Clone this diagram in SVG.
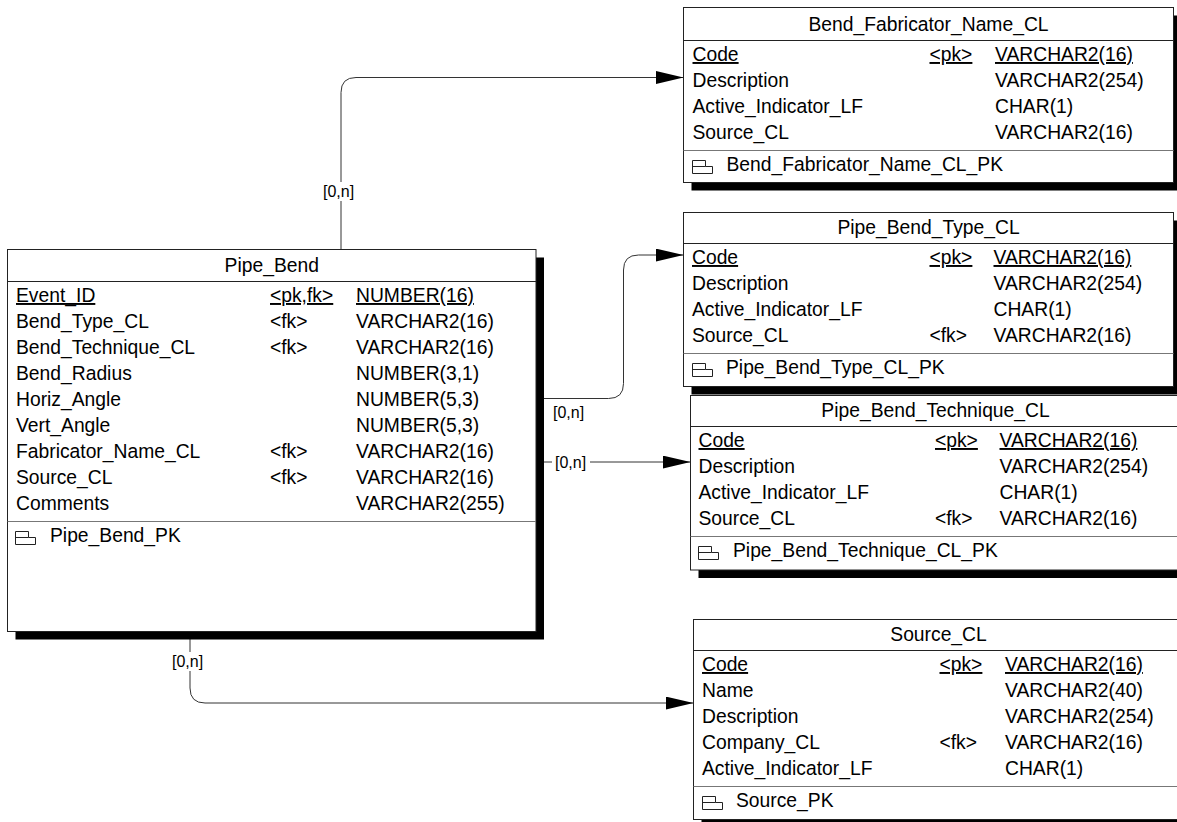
<svg xmlns="http://www.w3.org/2000/svg" width="1177" height="822" viewBox="0 0 1177 822">
<style>
text{font-family:"Liberation Sans",Arial,sans-serif;font-size:19.3px;fill:#000}
.ttl{text-anchor:middle}
.u{text-decoration:underline}
.lbl{font-size:16px}
.box{fill:#fff;stroke:#222;stroke-width:1}
.shd{fill:#000}
.hs{stroke:#222;stroke-width:1}
.ps{stroke:#777;stroke-width:1}
.ico{fill:none;stroke:#222;stroke-width:1}
.conn{fill:none;stroke:#333;stroke-width:1}
.lbg{fill:#fff}
</style>
<defs>
<marker id="arr" markerUnits="userSpaceOnUse" markerWidth="28" markerHeight="13" refX="28" refY="6.5" orient="auto">
<path d="M0,0 L28,6.5 L0,13 z" fill="#000"/>
</marker>
<path id="pk" d="M0.5,0.5 h13 v6 h7 v7 h-20 z M0.5,6.5 h13"/>
</defs>

<g id="connectors">
<path class="conn" d="M341,249.5 V92.5 Q341,77.5 356,77.5 H683.5" marker-end="url(#arr)"/>
<rect class="lbg" x="322" y="182" width="34" height="19"/>
<text class="lbl" x="323" y="197">[0,n]</text>
<path class="conn" d="M536,398.5 H608.5 Q623.5,398.5 623.5,383.5 V270 Q623.5,255 638.5,255 H683.5" marker-end="url(#arr)"/>
<text class="lbl" x="553" y="418">[0,n]</text>
<path class="conn" d="M536,462 H690.5" marker-end="url(#arr)"/>
<rect class="lbg" x="552" y="452" width="38" height="19"/>
<text class="lbl" x="555" y="468">[0,n]</text>
<path class="conn" d="M190,632 V688 Q190,703 205,703 H693.5" marker-end="url(#arr)"/>
<rect class="lbg" x="171" y="652" width="34" height="19"/>
<text class="lbl" x="172" y="667">[0,n]</text>
</g>

<g id="Pipe_Bend">
<rect class="shd" x="15.5" y="257.5" width="528.5" height="382"/>
<rect class="box" x="7.5" y="249.5" width="528.5" height="382"/>
<line class="hs" x1="7.5" y1="281.5" x2="536" y2="281.5"/>
<text class="ttl" x="271.75" y="272">Pipe_Bend</text>
<text x="16" y="302" class="u">Event_ID</text><text x="270" y="302" class="u">&lt;pk,fk&gt;</text><text x="356" y="302" class="u">NUMBER(16)</text>
<text x="16" y="328">Bend_Type_CL</text><text x="270" y="328">&lt;fk&gt;</text><text x="356" y="328">VARCHAR2(16)</text>
<text x="16" y="354">Bend_Technique_CL</text><text x="270" y="354">&lt;fk&gt;</text><text x="356" y="354">VARCHAR2(16)</text>
<text x="16" y="380">Bend_Radius</text><text x="356" y="380">NUMBER(3,1)</text>
<text x="16" y="406">Horiz_Angle</text><text x="356" y="406">NUMBER(5,3)</text>
<text x="16" y="432">Vert_Angle</text><text x="356" y="432">NUMBER(5,3)</text>
<text x="16" y="458">Fabricator_Name_CL</text><text x="270" y="458">&lt;fk&gt;</text><text x="356" y="458">VARCHAR2(16)</text>
<text x="16" y="484">Source_CL</text><text x="270" y="484">&lt;fk&gt;</text><text x="356" y="484">VARCHAR2(16)</text>
<text x="16" y="510">Comments</text><text x="356" y="510">VARCHAR2(255)</text>
<line class="ps" x1="7.5" y1="521.5" x2="536" y2="521.5"/>
<use href="#pk" class="ico" x="15" y="531"/>
<text x="50" y="542">Pipe_Bend_PK</text>
</g>

<g id="Bend_Fabricator_Name_CL">
<rect class="shd" x="691.5" y="15.5" width="490" height="175"/>
<rect class="box" x="683.5" y="7.5" width="490" height="175"/>
<line class="hs" x1="683.5" y1="40.5" x2="1173.5" y2="40.5"/>
<text class="ttl" x="928.5" y="31">Bend_Fabricator_Name_CL</text>
<text x="692.5" y="61" class="u">Code</text><text x="929.5" y="61" class="u">&lt;pk&gt;</text><text x="995" y="61" class="u">VARCHAR2(16)</text>
<text x="692.5" y="87">Description</text><text x="995" y="87">VARCHAR2(254)</text>
<text x="692.5" y="113">Active_Indicator_LF</text><text x="995" y="113">CHAR(1)</text>
<text x="692.5" y="139">Source_CL</text><text x="995" y="139">VARCHAR2(16)</text>
<line class="ps" x1="683.5" y1="150.5" x2="1173.5" y2="150.5"/>
<use href="#pk" class="ico" x="692" y="160"/>
<text x="726.5" y="171">Bend_Fabricator_Name_CL_PK</text>
</g>

<g id="Pipe_Bend_Type_CL">
<rect class="shd" x="691.5" y="220.5" width="490" height="174"/>
<rect class="box" x="683.5" y="212.5" width="490" height="174"/>
<line class="hs" x1="683.5" y1="243.5" x2="1173.5" y2="243.5"/>
<text class="ttl" x="928.5" y="234">Pipe_Bend_Type_CL</text>
<text x="692" y="264" class="u">Code</text><text x="929.5" y="264" class="u">&lt;pk&gt;</text><text x="993.5" y="264" class="u">VARCHAR2(16)</text>
<text x="692" y="290">Description</text><text x="993.5" y="290">VARCHAR2(254)</text>
<text x="692" y="316">Active_Indicator_LF</text><text x="993.5" y="316">CHAR(1)</text>
<text x="692" y="342">Source_CL</text><text x="929.5" y="342">&lt;fk&gt;</text><text x="993.5" y="342">VARCHAR2(16)</text>
<line class="ps" x1="683.5" y1="353.5" x2="1173.5" y2="353.5"/>
<use href="#pk" class="ico" x="692" y="363"/>
<text x="726" y="374">Pipe_Bend_Type_CL_PK</text>
</g>

<g id="Pipe_Bend_Technique_CL">
<rect class="shd" x="698.5" y="403.5" width="490" height="174.5"/>
<rect class="box" x="690.5" y="395.5" width="490" height="174.5"/>
<line class="hs" x1="690.5" y1="426.5" x2="1180.5" y2="426.5"/>
<text class="ttl" x="935.5" y="417">Pipe_Bend_Technique_CL</text>
<text x="698.5" y="447" class="u">Code</text><text x="935" y="447" class="u">&lt;pk&gt;</text><text x="999.5" y="447" class="u">VARCHAR2(16)</text>
<text x="698.5" y="473">Description</text><text x="999.5" y="473">VARCHAR2(254)</text>
<text x="698.5" y="499">Active_Indicator_LF</text><text x="999.5" y="499">CHAR(1)</text>
<text x="698.5" y="525">Source_CL</text><text x="935" y="525">&lt;fk&gt;</text><text x="999.5" y="525">VARCHAR2(16)</text>
<line class="ps" x1="690.5" y1="536.5" x2="1180.5" y2="536.5"/>
<use href="#pk" class="ico" x="698" y="546"/>
<text x="733" y="557">Pipe_Bend_Technique_CL_PK</text>
</g>

<g id="Source_CL">
<rect class="shd" x="701.5" y="627.5" width="490" height="200"/>
<rect class="box" x="693.5" y="619.5" width="490" height="200"/>
<line class="hs" x1="693.5" y1="650.5" x2="1183.5" y2="650.5"/>
<text class="ttl" x="938.5" y="641">Source_CL</text>
<text x="702" y="671" class="u">Code</text><text x="939.5" y="671" class="u">&lt;pk&gt;</text><text x="1005" y="671" class="u">VARCHAR2(16)</text>
<text x="702" y="697">Name</text><text x="1005" y="697">VARCHAR2(40)</text>
<text x="702" y="723">Description</text><text x="1005" y="723">VARCHAR2(254)</text>
<text x="702" y="749">Company_CL</text><text x="939.5" y="749">&lt;fk&gt;</text><text x="1005" y="749">VARCHAR2(16)</text>
<text x="702" y="775">Active_Indicator_LF</text><text x="1005" y="775">CHAR(1)</text>
<line class="ps" x1="693.5" y1="786.5" x2="1183.5" y2="786.5"/>
<use href="#pk" class="ico" x="702" y="796"/>
<text x="736" y="807">Source_PK</text>
</g>
</svg>
